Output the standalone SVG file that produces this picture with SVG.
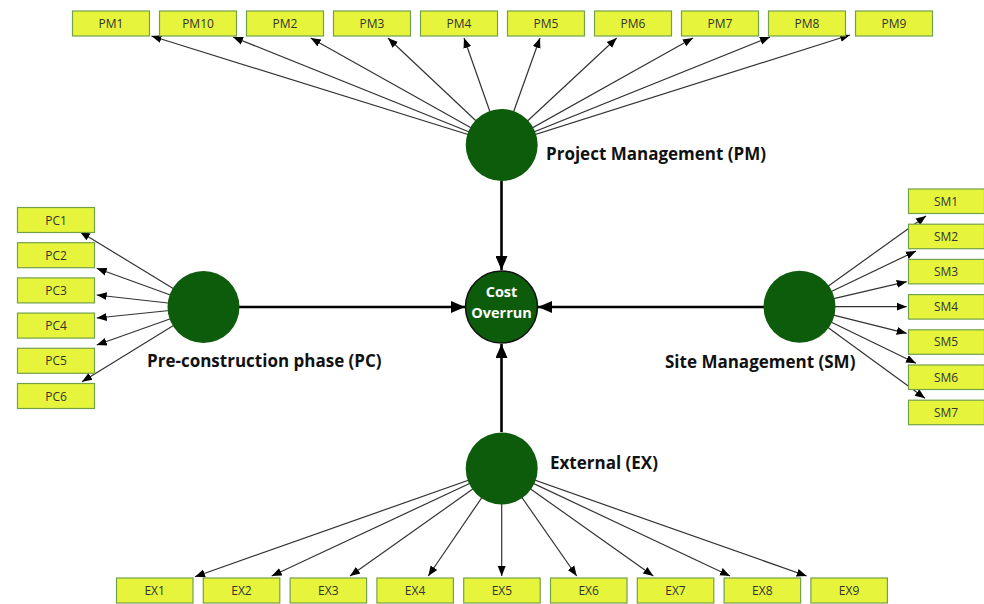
<svg xmlns="http://www.w3.org/2000/svg" width="984" height="604" viewBox="0 0 984 604">
<style>
.box{fill:#e6f53c;stroke:#74a04a;stroke-width:1.2}
.bt{font-family:"Open Sans","Liberation Sans",sans-serif;font-size:12px;fill:#333;text-anchor:middle}
.lv{fill:#0c5c0c}
.lt{font-family:"Open Sans","Liberation Sans",sans-serif;font-size:17px;font-weight:bold;fill:#111}
.ind{stroke:#333;stroke-width:1.2;fill:none;marker-end:url(#a)}
.main{stroke:#000;stroke-width:2.6;fill:none;marker-end:url(#b)}
</style>
<defs>
<marker id="a" markerUnits="userSpaceOnUse" markerWidth="10" markerHeight="10" viewBox="0 0 10 10" refX="10" refY="5" orient="auto"><path d="M0,1 L10,5 L0,9 Z" fill="#000"/></marker>
<marker id="b" markerUnits="userSpaceOnUse" markerWidth="14" markerHeight="12" viewBox="0 0 14 12" refX="14" refY="6" orient="auto"><path d="M0,0 L14,6 L0,12 Z" fill="#000"/></marker>
</defs>
<rect width="984" height="604" fill="#fff"/>
<g id="connectors">
<line class="ind" x1="501.7" y1="145" x2="151.5" y2="36"/>
<line class="ind" x1="501.7" y1="145" x2="233" y2="37"/>
<line class="ind" x1="501.7" y1="145" x2="310.7" y2="38"/>
<line class="ind" x1="501.7" y1="145" x2="388" y2="38"/>
<line class="ind" x1="501.7" y1="145" x2="464" y2="38"/>
<line class="ind" x1="501.7" y1="145" x2="540" y2="38"/>
<line class="ind" x1="501.7" y1="145" x2="616.7" y2="38"/>
<line class="ind" x1="501.7" y1="145" x2="693" y2="38"/>
<line class="ind" x1="501.7" y1="145" x2="770" y2="37"/>
<line class="ind" x1="501.7" y1="145" x2="850" y2="35"/>
<line class="ind" x1="203.5" y1="307" x2="80" y2="231.7"/>
<line class="ind" x1="203.5" y1="307" x2="96.7" y2="268.3"/>
<line class="ind" x1="203.5" y1="307" x2="96.7" y2="295"/>
<line class="ind" x1="203.5" y1="307" x2="96.7" y2="318"/>
<line class="ind" x1="203.5" y1="307" x2="96.7" y2="345"/>
<line class="ind" x1="203.5" y1="307" x2="82" y2="381.7"/>
<line class="ind" x1="799.5" y1="306.7" x2="926" y2="216"/>
<line class="ind" x1="799.5" y1="306.7" x2="916" y2="251"/>
<line class="ind" x1="799.5" y1="306.7" x2="906.7" y2="281.7"/>
<line class="ind" x1="799.5" y1="306.7" x2="906.7" y2="306.7"/>
<line class="ind" x1="799.5" y1="306.7" x2="906.7" y2="333.3"/>
<line class="ind" x1="799.5" y1="306.7" x2="916" y2="363.3"/>
<line class="ind" x1="799.5" y1="306.7" x2="925" y2="398.3"/>
<line class="ind" x1="501.7" y1="468.5" x2="195" y2="576.7"/>
<line class="ind" x1="501.7" y1="468.5" x2="271.7" y2="576"/>
<line class="ind" x1="501.7" y1="468.5" x2="350" y2="576"/>
<line class="ind" x1="501.7" y1="468.5" x2="428.3" y2="576"/>
<line class="ind" x1="501.7" y1="468.5" x2="501.7" y2="576"/>
<line class="ind" x1="501.7" y1="468.5" x2="576.7" y2="576"/>
<line class="ind" x1="501.7" y1="468.5" x2="653.3" y2="576"/>
<line class="ind" x1="501.7" y1="468.5" x2="730" y2="576"/>
<line class="ind" x1="501.7" y1="468.5" x2="806.7" y2="576"/>
<line class="main" x1="501.5" y1="181" x2="501.5" y2="270"/>
<line class="main" x1="239" y1="307" x2="465" y2="307"/>
<line class="main" x1="764" y1="307" x2="538" y2="307"/>
<line class="main" x1="501.5" y1="432" x2="501.5" y2="344"/>
</g>
<g id="CO"><circle cx="501.5" cy="307" r="36" fill="#0c5c0c" stroke="#111" stroke-width="1.5"/>
<text x="501.5" y="297" font-family="'Open Sans','Liberation Sans',sans-serif" font-size="14.5" font-weight="bold" fill="#fff" text-anchor="middle">Cost</text>
<text x="501.5" y="318" font-family="'Open Sans','Liberation Sans',sans-serif" font-size="14.5" font-weight="bold" fill="#fff" text-anchor="middle">Overrun</text></g>
<g id="PM"><circle class="lv" cx="501.7" cy="145" r="36"/><text class="lt" x="546" y="160">Project Management (PM)</text></g>
<g id="PC"><circle class="lv" cx="203.5" cy="307" r="36"/><text class="lt" x="147" y="367">Pre-construction phase (PC)</text></g>
<g id="SM"><circle class="lv" cx="799.5" cy="306.7" r="36"/><text class="lt" x="665" y="368">Site Management (SM)</text></g>
<g id="EX"><circle class="lv" cx="501.7" cy="468.5" r="36"/><text class="lt" x="550" y="469">External (EX)</text></g>
<g id="PM1"><rect class="box" x="72.5" y="11" width="77" height="25"/><text class="bt" x="111" y="28">PM1</text></g>
<g id="PM10"><rect class="box" x="159.5" y="11" width="77" height="25"/><text class="bt" x="198" y="28">PM10</text></g>
<g id="PM2"><rect class="box" x="246.5" y="11" width="77" height="25"/><text class="bt" x="285" y="28">PM2</text></g>
<g id="PM3"><rect class="box" x="333.5" y="11" width="77" height="25"/><text class="bt" x="372" y="28">PM3</text></g>
<g id="PM4"><rect class="box" x="420.5" y="11" width="77" height="25"/><text class="bt" x="459" y="28">PM4</text></g>
<g id="PM5"><rect class="box" x="507.5" y="11" width="77" height="25"/><text class="bt" x="546" y="28">PM5</text></g>
<g id="PM6"><rect class="box" x="594.5" y="11" width="77" height="25"/><text class="bt" x="633" y="28">PM6</text></g>
<g id="PM7"><rect class="box" x="681.5" y="11" width="77" height="25"/><text class="bt" x="720" y="28">PM7</text></g>
<g id="PM8"><rect class="box" x="768.5" y="11" width="77" height="25"/><text class="bt" x="807" y="28">PM8</text></g>
<g id="PM9"><rect class="box" x="855.5" y="11" width="77" height="25"/><text class="bt" x="894" y="28">PM9</text></g>
<g id="PC1"><rect class="box" x="17.5" y="207.5" width="77" height="25"/><text class="bt" x="56" y="224.5">PC1</text></g>
<g id="PC2"><rect class="box" x="17.5" y="242.7" width="77" height="25"/><text class="bt" x="56" y="259.7">PC2</text></g>
<g id="PC3"><rect class="box" x="17.5" y="277.9" width="77" height="25"/><text class="bt" x="56" y="294.9">PC3</text></g>
<g id="PC4"><rect class="box" x="17.5" y="313.1" width="77" height="25"/><text class="bt" x="56" y="330.1">PC4</text></g>
<g id="PC5"><rect class="box" x="17.5" y="348.3" width="77" height="25"/><text class="bt" x="56" y="365.3">PC5</text></g>
<g id="PC6"><rect class="box" x="17.5" y="383.5" width="77" height="25"/><text class="bt" x="56" y="400.5">PC6</text></g>
<g id="SM1"><rect class="box" x="908.5" y="189" width="76" height="24.5"/><text class="bt" x="946" y="205.5">SM1</text></g>
<g id="SM2"><rect class="box" x="908.5" y="224.2" width="76" height="24.5"/><text class="bt" x="946" y="240.7">SM2</text></g>
<g id="SM3"><rect class="box" x="908.5" y="259.4" width="76" height="24.5"/><text class="bt" x="946" y="275.9">SM3</text></g>
<g id="SM4"><rect class="box" x="908.5" y="294.6" width="76" height="24.5"/><text class="bt" x="946" y="311.1">SM4</text></g>
<g id="SM5"><rect class="box" x="908.5" y="329.8" width="76" height="24.5"/><text class="bt" x="946" y="346.3">SM5</text></g>
<g id="SM6"><rect class="box" x="908.5" y="365" width="76" height="24.5"/><text class="bt" x="946" y="381.5">SM6</text></g>
<g id="SM7"><rect class="box" x="908.5" y="400.2" width="76" height="24.5"/><text class="bt" x="946" y="416.7">SM7</text></g>
<g id="EX1"><rect class="box" x="116.5" y="578" width="76.5" height="25"/><text class="bt" x="154.7" y="595">EX1</text></g>
<g id="EX2"><rect class="box" x="203.3" y="578" width="76.5" height="25"/><text class="bt" x="241.5" y="595">EX2</text></g>
<g id="EX3"><rect class="box" x="290.1" y="578" width="76.5" height="25"/><text class="bt" x="328.3" y="595">EX3</text></g>
<g id="EX4"><rect class="box" x="376.9" y="578" width="76.5" height="25"/><text class="bt" x="415.1" y="595">EX4</text></g>
<g id="EX5"><rect class="box" x="463.7" y="578" width="76.5" height="25"/><text class="bt" x="501.9" y="595">EX5</text></g>
<g id="EX6"><rect class="box" x="550.5" y="578" width="76.5" height="25"/><text class="bt" x="588.7" y="595">EX6</text></g>
<g id="EX7"><rect class="box" x="637.3" y="578" width="76.5" height="25"/><text class="bt" x="675.5" y="595">EX7</text></g>
<g id="EX8"><rect class="box" x="724.1" y="578" width="76.5" height="25"/><text class="bt" x="762.3" y="595">EX8</text></g>
<g id="EX9"><rect class="box" x="810.9" y="578" width="76.5" height="25"/><text class="bt" x="849.1" y="595">EX9</text></g>
</svg>
